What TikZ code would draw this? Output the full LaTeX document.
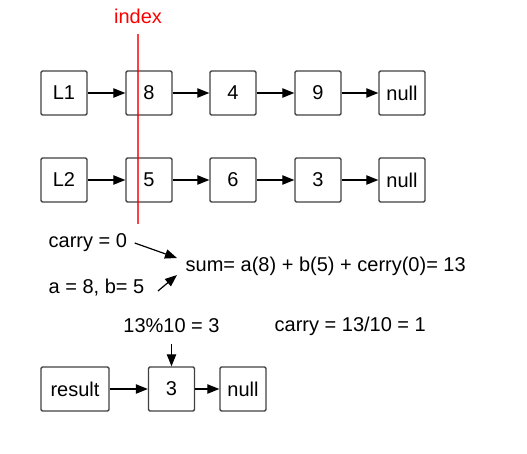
\documentclass[tikz,border=0pt]{standalone}
\usepackage{fontspec}
\setmainfont{Liberation Sans}
\usetikzlibrary{arrows.meta}
\definecolor{cline}{HTML}{404040}
\definecolor{cred}{HTML}{FF0000}
\tikzset{
  every picture/.style={font=\fontsize{15}{18}\selectfont, line width=1pt},
  box/.style={draw=cline, rounded corners=1pt, minimum width=34.5pt, minimum height=33pt, inner sep=0pt},
  arrow/.style={-{Triangle[length=9pt, width=7pt]}, draw=black, line width=0.9pt},
  note/.style={inner sep=0pt},
}

\begin{document}
\begin{tikzpicture}[x=0.75pt, y=-0.75pt]
  \useasboundingbox (0,0) rectangle (527,453);
  % L1: 8 -> 4 -> 9
  \node[box] (l1) at (64,93) {L1};
  \node[box] (a8) at (149,93) {8};
  \node[box] (a4) at (233,93) {4};
  \node[box] (a9) at (318,93) {9};
  \node[box] (anull) at (402,93) {null};
  \foreach \s/\t in {l1/a8, a8/a4, a4/a9, a9/anull} \draw[arrow] (\s) -- (\t);
  % L2: 5 -> 6 -> 3
  \node[box] (l2) at (64,180) {L2};
  \node[box] (b5) at (149,180) {5};
  \node[box] (b6) at (233,180) {6};
  \node[box] (b3) at (318,180) {3};
  \node[box] (bnull) at (402,180) {null};
  \foreach \s/\t in {l2/b5, b5/b6, b6/b3, b3/bnull} \draw[arrow] (\s) -- (\t);
  % index marker
  \node[note, text=cred] (index) at (138,16) {index};
  \coordinate (itop) at (138,34);
  \coordinate (ibot) at (138,224);
  \draw[cred, opacity=0.75, line width=1.3pt] (itop) -- (ibot);
  % sum of one digit
  \node[note, anchor=west] (carry) at (48,243) {carry = 0};
  \node[note, anchor=west] (ab) at (48,288) {a = 8, b= 5};
  \node[note, anchor=west] (sum) at (185,266) {sum= a(8) + b(5) + cerry(0)= 13};
  \draw[arrow] ([shift={(7,0)}]carry.east) -- ([shift={(-8,-8)}]sum.west);
  \draw[arrow] ([shift={(13,3)}]ab.east) -- ([shift={(-8,9)}]sum.west);
  \node[note] (mod) at (171.5,326) {13\%10 = 3};
  \node[note, anchor=west] (newcarry) at (274,326) {carry = 13/10 = 1};
  % result list
  \node[box, minimum width=51pt] (res) at (75,389) {result};
  \node[box] (r3) at (171.5,389) {3};
  \node[box] (rnull) at (243,389) {null};
  \draw[arrow] (res) -- (r3);
  \draw[arrow] (r3) -- (rnull);
  \draw[arrow] ([shift={(0,18)}]mod.center) -- (r3.north);
\end{tikzpicture}
\end{document}
